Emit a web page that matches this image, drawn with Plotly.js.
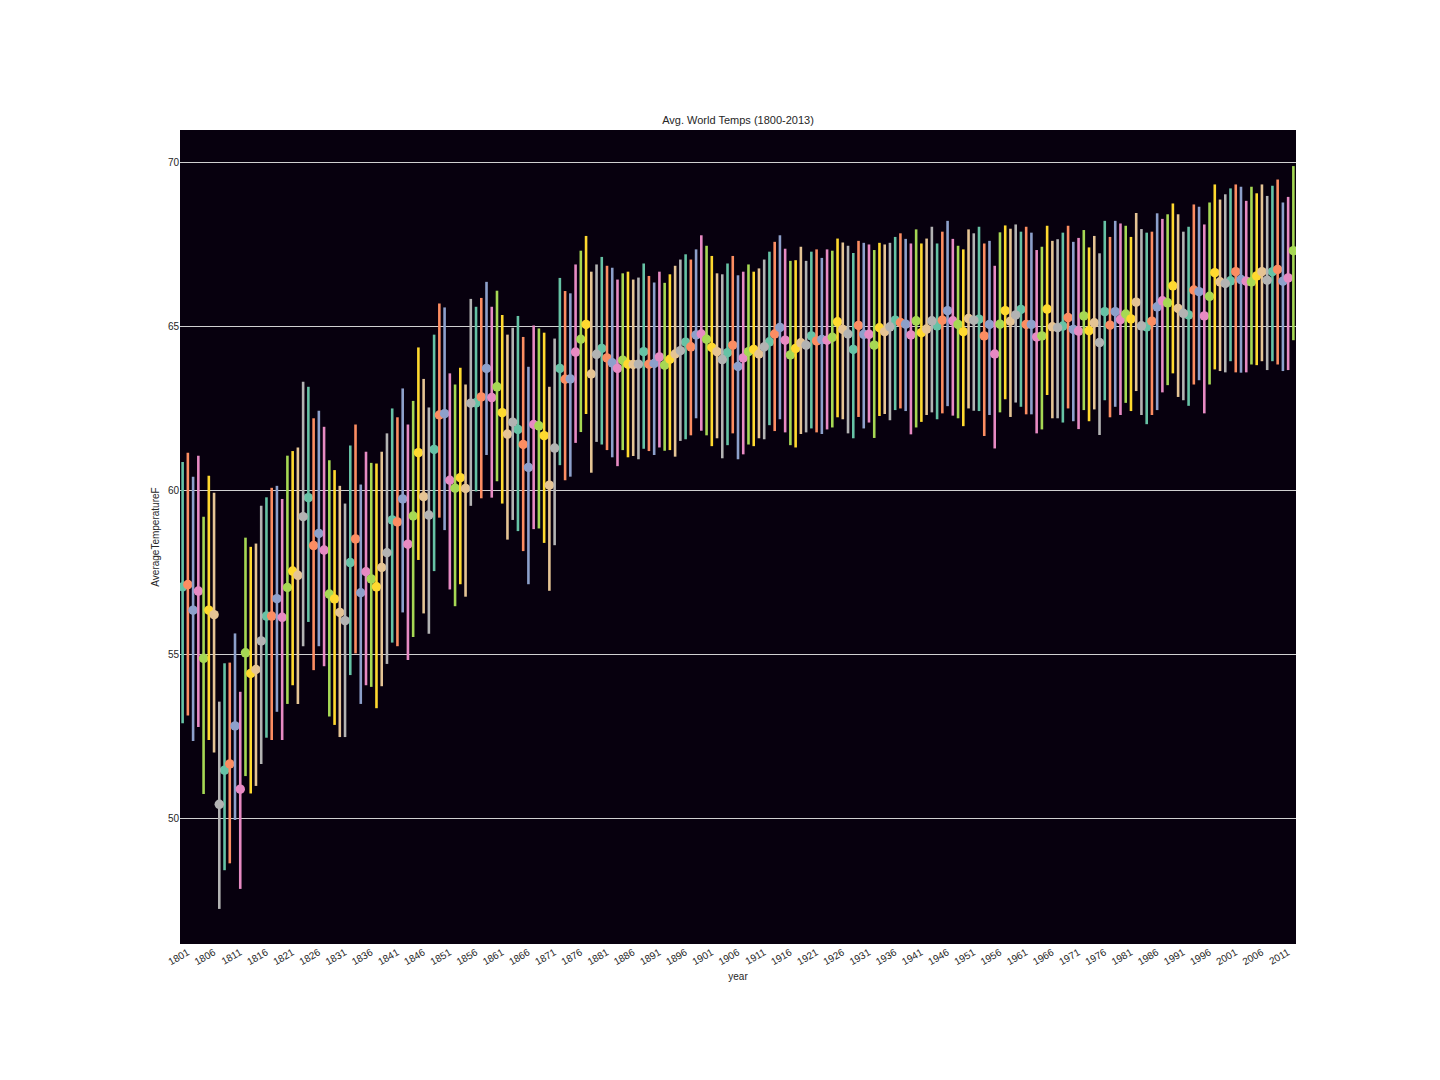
<!DOCTYPE html>
<html>
<head>
<meta charset="utf-8">
<script src="https://cdn.plot.ly/plotly-3.0.1.min.js"></script>
<style>
  body { margin: 0; background: #fff; }
  #tempGraph { width: 1440px; height: 1080px; }
</style>
</head>
<body>
<div id="tempGraph"></div>
<script>
// yearly mean temp (F) with 95% ci, 1801 - 2013
var firstYear = 1801;

var avgTemp = [
    57.05, 57.12, 56.34, 56.92, 54.87, 56.34, 56.20, 50.42, 51.46, 51.65,
    52.81, 50.88, 55.04, 54.41, 54.53, 55.40, 56.16, 56.16, 56.69, 56.12,
    57.03, 57.53, 57.40, 59.19, 59.77, 58.31, 58.68, 58.17, 56.83, 56.68,
    56.27, 56.02, 57.79, 58.51, 56.87, 57.51, 57.29, 57.05, 57.64, 58.09,
    59.09, 59.03, 59.73, 58.35, 59.21, 61.14, 59.80, 59.24, 61.24, 62.29,
    62.33, 60.30, 60.06, 60.38, 60.05, 62.65, 62.66, 62.84, 63.71, 62.82,
    63.15, 62.36, 61.71, 62.07, 61.85, 61.39, 60.69, 62.00, 61.96, 61.66,
    60.15, 61.28, 63.71, 63.38, 63.39, 64.21, 64.60, 65.05, 63.54, 64.14,
    64.32, 64.03, 63.88, 63.71, 63.96, 63.84, 63.83, 63.84, 64.22, 63.84,
    63.86, 64.06, 63.81, 63.99, 64.15, 64.25, 64.51, 64.37, 64.73, 64.76,
    64.60, 64.35, 64.22, 63.98, 64.19, 64.42, 63.77, 64.03, 64.22, 64.29,
    64.15, 64.37, 64.52, 64.76, 64.96, 64.57, 64.12, 64.32, 64.49, 64.42,
    64.70, 64.55, 64.59, 64.57, 64.66, 65.13, 64.90, 64.76, 64.29, 65.02,
    64.75, 64.75, 64.42, 64.95, 64.83, 64.98, 65.18, 65.11, 65.06, 64.73,
    65.16, 64.80, 64.91, 65.16, 65.01, 65.18, 65.47, 65.16, 65.05, 64.83,
    65.23, 65.18, 65.21, 64.70, 65.05, 64.15, 65.06, 65.47, 65.15, 65.34,
    65.51, 65.05, 65.05, 64.67, 64.70, 65.52, 64.98, 64.95, 65.00, 65.26,
    64.90, 64.85, 65.31, 64.86, 65.10, 64.50, 65.44, 65.03, 65.44, 65.20,
    65.37, 65.22, 65.73, 65.01, 64.98, 65.15, 65.59, 65.77, 65.71, 66.23,
    65.54, 65.39, 65.34, 66.10, 66.05, 65.31, 65.91, 66.63, 66.35, 66.30,
    66.38, 66.66, 66.42, 66.37, 66.35, 66.53, 66.66, 66.40, 66.66, 66.73,
    66.37, 66.47, 67.30
];

var ciHigh = [
    60.86, 61.14, 60.41, 61.05, 59.19, 60.44, 59.92, 53.55, 54.72, 54.74,
    55.63, 53.85, 58.55, 58.27, 58.37, 59.52, 59.78, 60.07, 60.13, 59.73,
    61.05, 61.19, 61.30, 63.30, 63.15, 62.19, 62.42, 61.93, 60.91, 60.61,
    60.13, 59.59, 61.36, 62.00, 60.17, 61.17, 60.83, 60.81, 61.17, 61.73,
    62.49, 62.22, 63.10, 62.00, 62.72, 64.35, 63.39, 62.52, 64.74, 65.69,
    65.57, 63.56, 63.22, 63.73, 63.22, 65.83, 65.59, 65.86, 66.35, 65.59,
    66.08, 65.34, 64.74, 64.95, 65.31, 64.67, 63.76, 65.02, 64.93, 64.80,
    63.15, 64.62, 66.47, 66.07, 66.00, 66.88, 67.30, 67.75, 66.66, 66.88,
    67.11, 66.84, 66.78, 66.42, 66.61, 66.66, 66.42, 66.48, 66.91, 66.53,
    66.33, 66.66, 66.32, 66.58, 66.84, 67.03, 67.19, 67.03, 67.34, 67.77,
    67.45, 67.14, 66.61, 66.58, 66.91, 67.14, 66.55, 66.66, 66.88, 66.66,
    66.76, 67.03, 67.27, 67.57, 67.77, 67.36, 66.99, 67.01, 67.42, 66.99,
    67.27, 67.34, 67.08, 67.34, 67.30, 67.67, 67.55, 67.45, 67.23, 67.60,
    67.54, 67.49, 67.32, 67.54, 67.49, 67.54, 67.72, 67.83, 67.66, 67.52,
    67.95, 67.52, 67.67, 68.03, 67.52, 67.88, 68.21, 67.66, 67.45, 67.34,
    67.95, 67.83, 68.03, 67.52, 67.60, 66.84, 67.86, 68.07, 67.97, 68.10,
    67.88, 68.03, 67.85, 67.32, 67.42, 68.06, 67.60, 67.65, 67.85, 68.06,
    67.57, 67.69, 67.93, 67.40, 67.75, 67.22, 68.21, 67.72, 68.21, 68.13,
    68.06, 67.72, 68.45, 67.96, 67.85, 67.88, 68.44, 68.27, 68.41, 68.74,
    68.41, 67.88, 68.03, 68.71, 68.64, 68.10, 68.77, 69.32, 68.86, 69.02,
    69.20, 69.32, 69.25, 68.82, 69.25, 69.05, 69.32, 68.97, 69.28, 69.47,
    68.77, 68.94, 69.88
];

var ciLow = [
    52.89, 53.13, 52.35, 52.78, 50.73, 52.38, 52.00, 47.23, 48.41, 48.62,
    49.94, 47.84, 51.28, 50.75, 50.98, 51.65, 52.45, 52.38, 53.24, 52.38,
    53.48, 54.05, 53.48, 55.24, 55.98, 54.51, 55.24, 54.63, 53.10, 52.84,
    52.47, 52.47, 54.36, 55.02, 53.48, 54.05, 54.00, 53.35, 54.02, 54.70,
    55.35, 55.24, 56.27, 54.82, 55.52, 57.87, 56.24, 55.62, 57.53, 59.16,
    58.78, 56.97, 56.46, 57.13, 56.75, 59.52, 59.96, 59.75, 61.07, 59.77,
    60.27, 59.59, 58.49, 59.09, 58.75, 58.14, 57.13, 58.81, 58.83, 58.39,
    56.93, 58.32, 60.76, 60.30, 60.41, 61.44, 61.77, 62.32, 60.53, 61.47,
    61.39, 61.22, 61.00, 60.73, 61.22, 61.00, 61.04, 60.94, 61.26, 61.19,
    61.07, 61.30, 61.20, 61.22, 61.02, 61.50, 61.55, 61.67, 62.19, 61.81,
    61.67, 61.34, 61.58, 60.97, 61.37, 61.73, 60.94, 61.09, 61.39, 61.34,
    61.58, 61.55, 61.98, 61.80, 62.16, 61.76, 61.37, 61.30, 61.71, 61.76,
    61.88, 61.76, 61.71, 61.85, 61.91, 62.22, 62.16, 61.73, 61.58, 62.23,
    61.88, 62.06, 61.59, 62.26, 62.32, 62.13, 62.44, 62.49, 62.41, 61.70,
    61.91, 62.08, 62.29, 62.37, 62.16, 62.34, 62.56, 62.27, 62.19, 61.95,
    62.49, 62.42, 62.41, 61.65, 62.29, 61.27, 62.37, 62.77, 62.23, 62.67,
    62.54, 62.31, 62.31, 61.73, 61.85, 62.90, 62.19, 62.19, 62.06, 62.49,
    62.10, 61.86, 62.44, 62.10, 62.46, 61.68, 62.74, 62.22, 62.54, 62.29,
    62.66, 62.41, 63.02, 62.29, 62.01, 62.29, 62.44, 62.98, 63.20, 63.56,
    62.84, 62.74, 62.57, 63.22, 63.35, 62.34, 63.22, 63.68, 63.63, 63.59,
    63.93, 63.59, 63.58, 63.59, 63.83, 63.81, 63.93, 63.66, 63.93, 63.83,
    63.63, 63.66, 64.57
];

// seaborn Set2, cycling one colour per year
var set2 = ['#66c2a5', '#fc8d62', '#8da0cb', '#e78ac3', '#a6d854', '#ffd92f', '#e5c494', '#b3b3b3'];

var years = avgTemp.map((v, i) => firstYear + i);

var data = [];
set2.forEach((color, k) => {
    var x = [], y = [], up = [], down = [];
    years.forEach((yr, i) => {
        if (i % set2.length != k) return;
        x.push(yr);
        y.push(avgTemp[i]);
        up.push(ciHigh[i] - avgTemp[i]);
        down.push(avgTemp[i] - ciLow[i]);
    });
    data.push({
        x: x,
        y: y,
        type: 'scatter',
        mode: 'markers',
        marker: { color: color, size: 9.5, line: { width: 0 } },
        error_y: {
            type: 'data',
            symmetric: false,
            array: up,
            arrayminus: down,
            color: color,
            thickness: 2.6,
            width: 0
        },
        hoverinfo: 'skip',
        showlegend: false
    });
});

var tickYears = years.filter(yr => (yr - firstYear) % 5 == 0);

var layout = {
    width: 1440,
    height: 1080,
    paper_bgcolor: '#ffffff',
    plot_bgcolor: '#07000e',
    font: { family: 'Liberation Sans, Arial, sans-serif', size: 10, color: '#262626' },
    title: {
        text: 'Avg. World Temps (1800-2013)',
        font: { size: 11, color: '#262626' },
        x: 0.5, xref: 'paper',
        y: 1 - 120 / 1080, yref: 'container', yanchor: 'middle'
    },
    margin: { l: 180, r: 144, t: 130, b: 136 },
    xaxis: {
        range: [firstYear - 0.5, years[years.length - 1] + 0.5],
        tickvals: tickYears,
        ticktext: tickYears.map(String),
        tickangle: -30,
        ticklabelshift: 5,
        showgrid: false,
        zeroline: false,
        showline: false,
        ticks: '',
        tickfont: { size: 10, color: '#262626' },
        title: { text: 'year', font: { size: 10, color: '#262626' }, standoff: 6 }
    },
    yaxis: {
        range: [46.16, 70.98],
        tickvals: [50, 55, 60, 65, 70],
        showgrid: true,
        gridcolor: '#d0d0d0',
        gridwidth: 1,
        zeroline: false,
        showline: false,
        ticks: '',
        tickfont: { size: 10, color: '#262626' },
        title: { text: 'AverageTemperatureF', font: { size: 10, color: '#262626' }, standoff: 6 }
    }
};

Plotly.newPlot('tempGraph', data, layout, { displayModeBar: false, staticPlot: true });
</script>
</body>
</html>
